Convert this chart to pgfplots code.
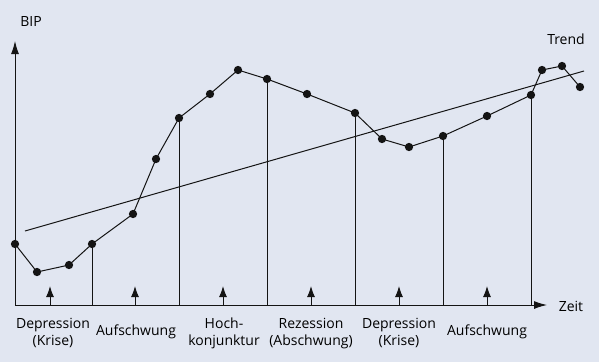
\documentclass[border=0pt]{standalone}
\usepackage{pgfplots}
\pgfplotsset{compat=1.18}
\usetikzlibrary{arrows.meta}
\usepackage{fontspec}
\setmainfont{Open Sans}
\definecolor{bg}{RGB}{225,230,241}
\definecolor{ink}{RGB}{20,20,20}
\begin{document}
\begin{tikzpicture}
\begin{axis}[
  scale only axis, width=599pt, height=362pt,
  xmin=0, xmax=599, ymin=0, ymax=362, y dir=reverse,
  axis lines=none, clip=false,
  axis background/.style={fill=bg},
]
% axes
\addplot[ink, line width=1pt, -{Latex[length=13pt,width=8pt]}] coordinates {(15,305) (15,41)};
\addplot[ink, line width=1pt, -{Latex[length=13pt,width=8pt]}] coordinates {(15,305) (547,305)};
% trend
\addplot[ink, line width=1pt] coordinates {(25,231) (584,71)};
% vertical drop lines
\foreach \x/\y in {92/244,179/118,267/79,355/113,443/136,531/95}{
  \edef\tmp{\noexpand\addplot[ink, line width=0.9pt] coordinates {(\x,\y) (\x,305)};}\tmp
}
% phase arrows
\foreach \x in {50,135,223,311,399,487}{
  \edef\tmp{\noexpand\addplot[ink, line width=1pt, -{Latex[length=11pt,width=8pt]}] coordinates {(\x,305) (\x,286)};}\tmp
}
% BIP series
\addplot[ink, line width=1pt, mark=*, mark size=3.6pt, mark options={fill=ink}] coordinates {
(15,244) (37,272) (69,265) (92,244) (133,214) (156,159) (179,118) (210,94)
(238,70) (267,79) (307,94) (355,113) (382,139) (409,147) (443,136) (487,116)
(531,95) (542,70) (562,66) (580,87)};
% labels
\node[font=\fontsize{14}{16}\selectfont, anchor=base] at (axis cs:31,26) {BIP};
\node[font=\fontsize{14}{16}\selectfont, anchor=base] at (axis cs:566,44) {Trend};
\node[font=\fontsize{14}{16}\selectfont, anchor=base] at (axis cs:571,311) {Zeit};
\foreach \x/\t in {53/{Depression\\(Krise)},224/{Hoch-\\konjunktur},311/{Rezession\\(Abschwung)},399/{Depression\\(Krise)}}{
  \edef\tmp{\noexpand\node[font=\noexpand\fontsize{14}{17}\noexpand\selectfont, align=center, anchor=north, inner sep=0pt] at (axis cs:\x,318) {\unexpanded\expandafter{\t}};}\tmp
}
\node[font=\fontsize{14}{17}\selectfont, anchor=north, inner sep=0pt] at (axis cs:136,325) {Aufschwung};
\node[font=\fontsize{14}{17}\selectfont, anchor=north, inner sep=0pt] at (axis cs:487,325) {Aufschwung};
\end{axis}
\end{tikzpicture}
\end{document}
